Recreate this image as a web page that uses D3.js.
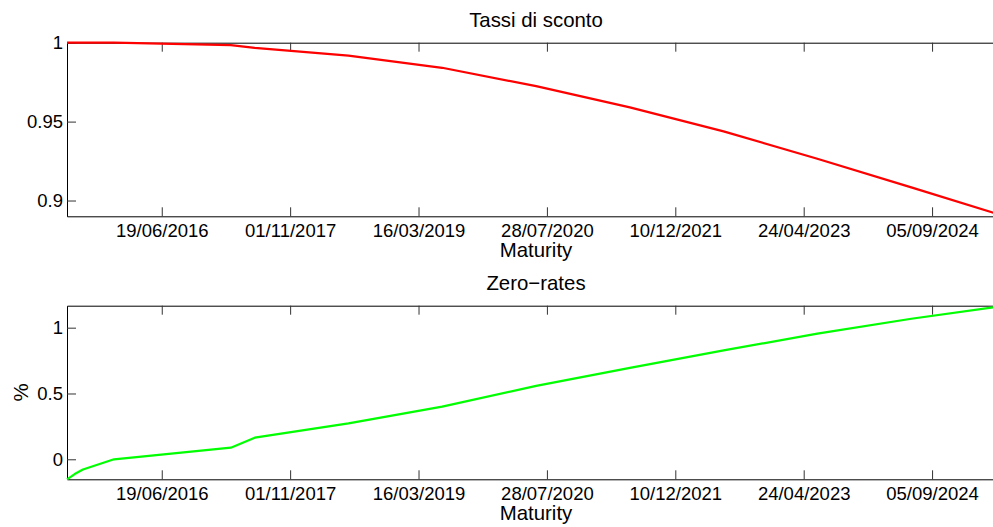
<!DOCTYPE html>
<html>
<head>
<meta charset="utf-8">
<script src="https://cdn.jsdelivr.net/npm/d3@7"></script>
<style>
  html, body { margin: 0; padding: 0; background: #fff; overflow: hidden; }
  svg { display: block; font-family: "Liberation Sans", Arial, Helvetica, sans-serif; }
  .tick text { font-size: 18.5px; fill: #000; }
  .tick line { stroke: #333; }
  .domain { stroke: #000; }
</style>
</head>
<body>
<svg id="chart" width="993" height="527"></svg>
<script>
// Curve nodes: maturity dates of the bootstrapped term structure
const maturities = [
  "2015-06-16", "2015-07-16", "2015-08-17", "2015-12-16", "2017-03-15",
  "2017-06-16", "2018-06-16", "2019-06-16", "2020-06-16", "2021-06-16",
  "2022-06-16", "2023-06-16", "2024-06-16", "2025-06-16"
];

// Discount factors at each maturity
const discountFactors = [
  1.0000, 1.0000, 1.0000, 1.0000, 0.9985,
  0.9967, 0.9918, 0.9841, 0.9725, 0.9590,
  0.9438, 0.9265, 0.9083, 0.8900
];

// Zero rates (%) at each maturity
const zeroRates = [
  -0.152, -0.112, -0.077, 0.000, 0.088,
  0.164, 0.273, 0.400, 0.558, 0.695,
  0.827, 0.955, 1.068, 1.167
];

// Date ticks on the maturity axis
const dateTicks = [
  "2016-06-19", "2017-11-01", "2019-03-16", "2020-07-28",
  "2021-12-10", "2023-04-24", "2024-09-05"
];

const dfTicks = [0.9, 0.95, 1];
const dfTickLabels = ["0.9", "0.95", "1"];
const zrTicks = [0, 0.5, 1];
const zrTickLabels = ["0", "0.5", "1"];

const parse = d3.utcParse("%Y-%m-%d");
const fmt = d3.utcFormat("%d/%m/%Y");
const dates = maturities.map(parse);
const tickDates = dateTicks.map(parse);

const svg = d3.select("#chart");
const left = 67, right = 1005;

const x = d3.scaleUtc()
  .domain([dates[0], dates[dates.length - 1]])
  .range([left, right]);

function panel(cfg) {
  const y = d3.scaleLinear().domain(cfg.domain).range([cfg.bottom, cfg.top]);
  const g = svg.append("g");

  // box
  g.append("g")
    .attr("transform", `translate(0,${cfg.top})`)
    .call(d3.axisTop(x).tickValues(tickDates).tickFormat("").tickSizeInner(-9).tickSizeOuter(0));

  g.append("g")
    .attr("transform", `translate(0,${cfg.bottom})`)
    .call(d3.axisBottom(x).tickValues(tickDates).tickFormat(fmt)
      .tickSizeInner(-9).tickSizeOuter(0).tickPadding(7.6));

  g.append("g")
    .attr("transform", `translate(${left},0)`)
    .call(d3.axisLeft(y).tickValues(cfg.ticks)
      .tickFormat((d, i) => cfg.tickLabels[i])
      .tickSizeInner(-9).tickSizeOuter(0).tickPadding(4));

  g.selectAll(".tick text").attr("font-family", null).attr("font-size", null);
  g.selectAll(".tick line").attr("stroke", null);
  g.selectAll(".domain").attr("stroke", null);

  // title
  g.append("text")
    .attr("x", (left + right) / 2)
    .attr("y", cfg.top - 15.5)
    .attr("text-anchor", "middle")
    .attr("font-size", "20.4px")
    .text(cfg.title);

  // x label
  g.append("text")
    .attr("x", (left + right) / 2)
    .attr("y", cfg.bottom + 41)
    .attr("text-anchor", "middle")
    .attr("font-size", "20.4px")
    .text("Maturity");

  if (cfg.ylabel) {
    g.append("text")
      .attr("transform", `translate(28,${(cfg.top + cfg.bottom) / 2}) rotate(-90)`)
      .attr("text-anchor", "middle")
      .attr("font-size", "20.4px")
      .text(cfg.ylabel);
  }

  const line = d3.line()
    .x((d, i) => x(dates[i]))
    .y(d => y(d));

  g.append("path")
    .datum(cfg.values)
    .attr("fill", "none")
    .attr("stroke", cfg.color)
    .attr("stroke-width", 2.2)
    .attr("stroke-linejoin", "round")
    .attr("d", line);
}

panel({
  top: 42.7, bottom: 216.3,
  domain: [0.89, 1],
  ticks: dfTicks, tickLabels: dfTickLabels,
  values: discountFactors,
  color: "#ff0000",
  title: "Tassi di sconto"
});

panel({
  top: 305.7, bottom: 479.3,
  domain: [-0.152, 1.167],
  ticks: zrTicks, tickLabels: zrTickLabels,
  values: zeroRates,
  color: "#00ff00",
  title: "Zero\u2212rates",
  ylabel: "%"
});
</script>
</body>
</html>
